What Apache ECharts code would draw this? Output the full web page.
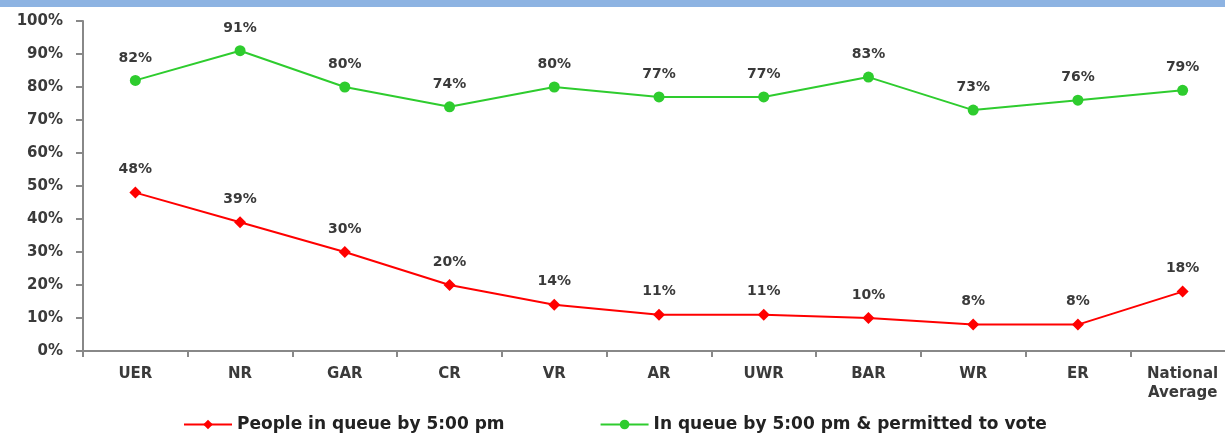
<!DOCTYPE html>
<html><head><meta charset="utf-8">
<script src="https://cdn.jsdelivr.net/npm/echarts@6/dist/echarts.min.js"></script>
<style>html,body{margin:0;padding:0;background:#fff}#c{width:1225px;height:434px}</style>
</head><body><div id="c"></div>
<script>
const categories = ['UER','NR','GAR','CR','VR','AR','UWR','BAR','WR','ER','National\nAverage'];
const queueBy5 = [48,39,30,20,14,11,11,10,8,8,18];
const permitted = [82,91,80,74,80,77,77,83,73,76,79];
const seriesNames = ['People in queue by 5:00 pm','In queue by 5:00 pm & permitted to vote'];
const yTicks = [0,10,20,30,40,50,60,70,80,90,100];

const chart = echarts.init(document.getElementById('c'));
const txt = {color:'#3a3a3a', fontFamily:'DejaVu Sans', fontWeight:'bold', fontSize:15};
const lbl = Object.assign({show:true, position:'top', distance:10, formatter:'{c}%'}, txt, {fontSize:14});
chart.setOption({
  animation:false,
  graphic:[{type:'rect', shape:{x:0,y:0,width:1225,height:7}, style:{fill:'#8db3e2'}}],
  grid:{left:83, top:21, width:1152, height:330, containLabel:false, outerBoundsMode:'none'},
  xAxis:{type:'category', data:categories, boundaryGap:true,
    axisLine:{lineStyle:{color:'#888', width:2}},
    axisTick:{show:true, alignWithLabel:false, length:6, lineStyle:{color:'#888', width:2}},
    axisLabel:Object.assign({margin:14, lineHeight:19, interval:0}, txt)},
  yAxis:{type:'value', min:0, max:100, interval:10,
    axisLine:{show:true, lineStyle:{color:'#888', width:2}},
    axisTick:{show:true, length:7, lineStyle:{color:'#888', width:2}},
    splitLine:{show:false},
    axisLabel:Object.assign({formatter:v=>yTicks.includes(v)?v+'%':'', margin:20}, txt)},
  legend:{top:411, left:178, itemGap:95, itemWidth:48, itemHeight:12,
    textStyle:{color:'#222', fontFamily:'DejaVu Sans', fontWeight:'bold', fontSize:17},
    data:seriesNames},
  series:[
    {name:seriesNames[0], type:'line', data:queueBy5, symbol:'diamond', symbolSize:12,
      lineStyle:{color:'#ff0000', width:2}, itemStyle:{color:'#ff0000'}, label:lbl},
    {name:seriesNames[1], type:'line', data:permitted, symbol:'circle', symbolSize:11,
      lineStyle:{color:'#2ecc2e', width:2}, itemStyle:{color:'#2ecc2e'}, label:lbl}
  ]
});
</script></body></html>
